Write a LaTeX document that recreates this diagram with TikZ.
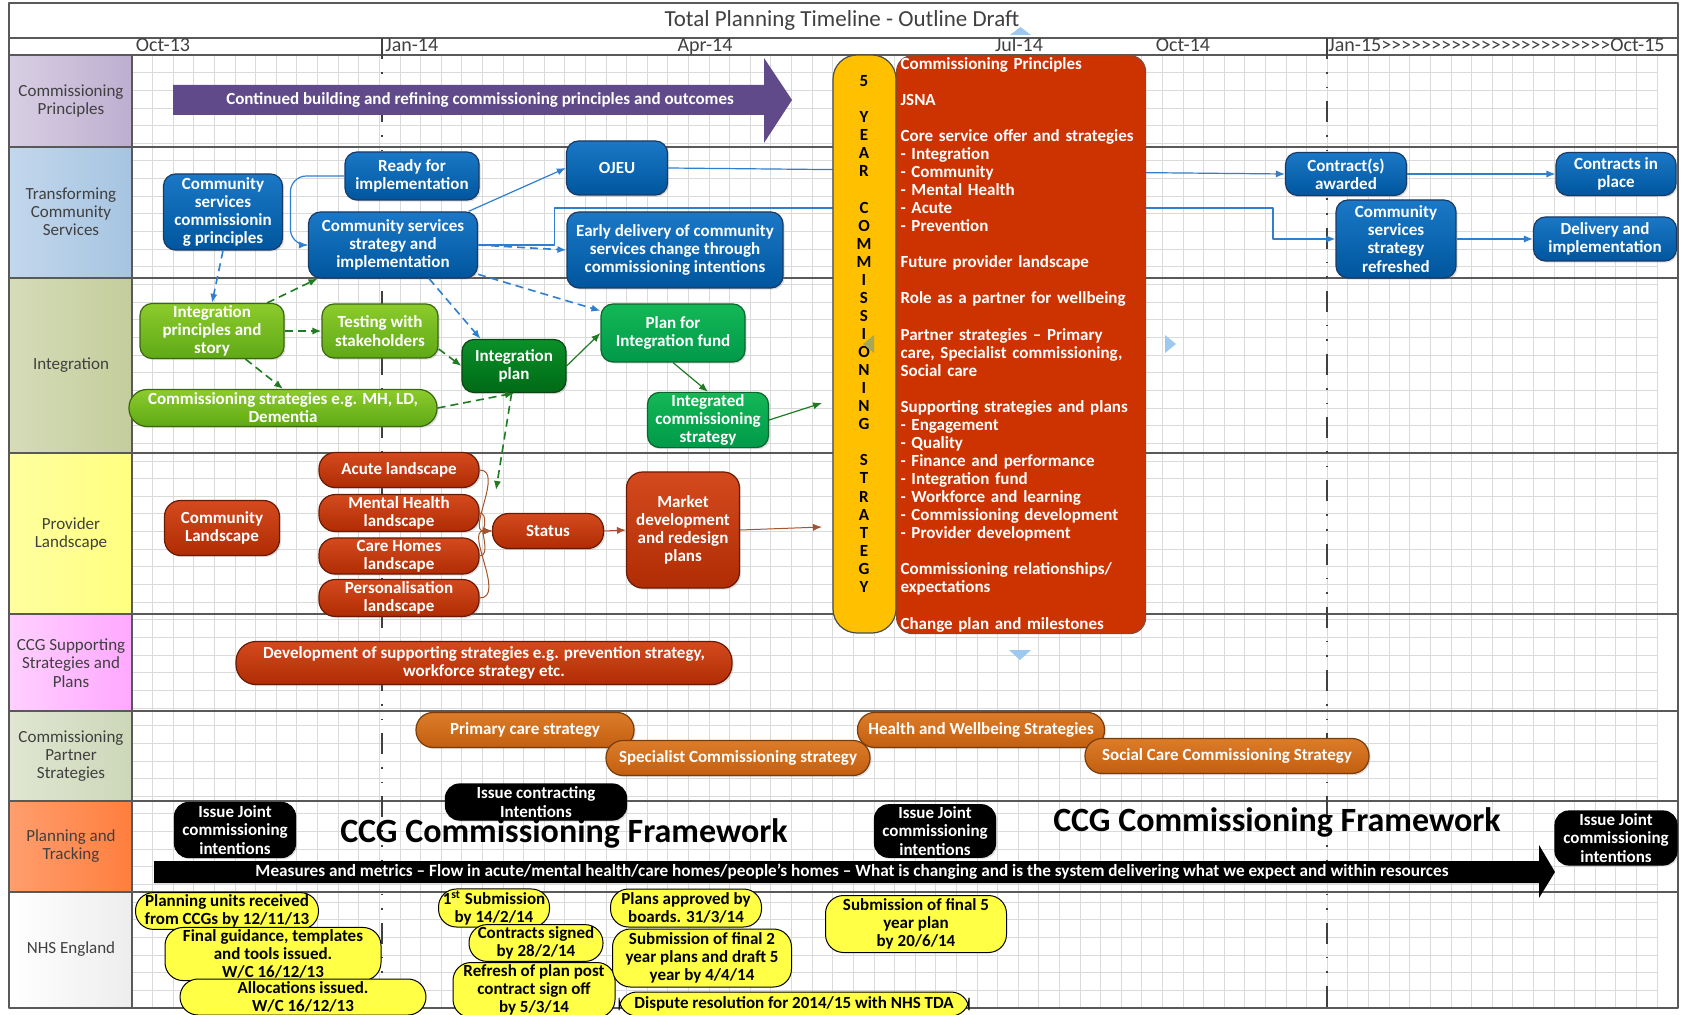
\documentclass[tikz,border=0pt]{standalone}
\usepackage{fontspec}
\setmainfont{Carlito}
\usetikzlibrary{arrows.meta,shadows}

\definecolor{framegrey}{HTML}{595959}
\definecolor{gridgrey}{HTML}{DADADA}
\definecolor{labelgrey}{HTML}{404040}
\definecolor{cpA}{HTML}{D8CFE3}\definecolor{cpB}{HTML}{BDAED0}
\definecolor{tcsA}{HTML}{C3D7EC}\definecolor{tcsB}{HTML}{A6C4E1}
\definecolor{intA}{HTML}{D5DCB8}\definecolor{intB}{HTML}{C4CD9C}
\definecolor{provA}{HTML}{FFFFA0}\definecolor{provB}{HTML}{FFFF80}
\definecolor{ccgA}{HTML}{FFD0FF}\definecolor{ccgB}{HTML}{FFA8FF}
\definecolor{partA}{HTML}{E0E6D2}\definecolor{partB}{HTML}{CDD7B8}
\definecolor{planA}{HTML}{FF9E6E}\definecolor{planB}{HTML}{FF7E3E}
\definecolor{nhsA}{HTML}{FFFFFF}\definecolor{nhsB}{HTML}{EDEDED}
\definecolor{blueA}{HTML}{1B78C6}\definecolor{blueB}{HTML}{00569E}\definecolor{blueE}{HTML}{1A3A66}
\definecolor{limeA}{HTML}{8CCB2C}\definecolor{limeB}{HTML}{5FA916}\definecolor{limeE}{HTML}{3C6612}
\definecolor{dgreenA}{HTML}{0A9028}\definecolor{dgreenB}{HTML}{006A16}\definecolor{dgreenE}{HTML}{0A4512}
\definecolor{mgreenA}{HTML}{14B856}\definecolor{mgreenB}{HTML}{00994A}\definecolor{mgreenE}{HTML}{0C6430}
\definecolor{redA}{HTML}{D44A1E}\definecolor{redB}{HTML}{B02C04}\definecolor{redE}{HTML}{6A1A04}
\definecolor{orA}{HTML}{DC7C2A}\definecolor{orB}{HTML}{C25F10}\definecolor{orE}{HTML}{7A3C08}
\definecolor{purplearrow}{HTML}{604A8A}
\definecolor{stratred}{HTML}{CC3300}
\definecolor{stratyellow}{HTML}{FFC000}
\definecolor{nhsyellow}{HTML}{FFFF45}
\definecolor{linkblue}{HTML}{2F7FD0}
\definecolor{linkgreen}{HTML}{1E7B22}
\definecolor{linkbrown}{HTML}{A3542A}
\definecolor{handleblue}{HTML}{9DC8F0}
\definecolor{handleolive}{HTML}{A5A858}

\newcommand{\boxfont}{\fontsize{8.5}{9.1}\selectfont\bfseries}
\newcommand{\stratfont}{\fontsize{8.5}{9.03}\selectfont\bfseries}
\newcommand{\gtmark}{>\kern0pt}

\tikzset{
  sz/.style 2 args={minimum width=#1*0.5pt, minimum height=#2*0.5pt},
  lanehead/.style={font=\fontsize{8.5}{9.1}\selectfont, text=labelgrey, align=center},
  datelabel/.style={font=\fontsize{10}{12}\selectfont, text=labelgrey, anchor=base},
  gridline/.style={draw=gridgrey, line width=0.4pt},
  laneline/.style={draw=framegrey, line width=0.6pt},
  milestone/.style={draw=labelgrey, line width=0.8pt, dash pattern=on 10.5pt off 6.5pt on 0.8pt off 6.5pt on 0.8pt off 6.5pt},
  task/.style={rounded corners=6pt, line width=0.6pt, inner sep=1pt, align=center, font=\boxfont, text=white,
    drop shadow={shadow xshift=0.8pt, shadow yshift=-0.8pt, opacity=0.25}},
  tcsbox/.style={task, draw=blueE, top color=blueA, bottom color=blueB},
  limebox/.style={task, draw=limeE, top color=limeA, bottom color=limeB},
  dgreenbox/.style={task, draw=dgreenE, top color=dgreenA, bottom color=dgreenB},
  mgreenbox/.style={task, draw=mgreenE, top color=mgreenA, bottom color=mgreenB},
  provbox/.style={task, rounded corners=8pt, draw=redE, top color=redA, bottom color=redB},
  partbox/.style={task, rounded corners=8.5pt, draw=orE, top color=orA, bottom color=orB},
  jointbox/.style={task, rounded corners=7pt, fill=black, draw=black},
  nhsbox/.style={rounded corners=9pt, draw=black, line width=0.5pt, fill=nhsyellow, inner sep=1pt,
    align=center, font=\boxfont, text=black},
  tcslink/.style={draw=linkblue, line width=0.6pt, ->},
  tcsdash/.style={tcslink, line width=0.8pt, dash pattern=on 4pt off 2.5pt},
  intlink/.style={draw=linkgreen, line width=0.6pt, ->},
  intdash/.style={intlink, line width=0.8pt, dash pattern=on 4pt off 2.5pt},
  provlink/.style={draw=linkbrown, line width=0.5pt, ->},
}

\begin{document}
\begin{tikzpicture}[x=0.5pt, y=-0.5pt, line join=round, >={Latex[length=4.5pt,width=3.6pt]}]
\def\gxmin{132}\def\gxmax{1657}\def\gymin{55}\def\gymax{1008}
\useasboundingbox (0,0) rectangle (1685,1015);
\fill[white] (0,0) rectangle (1685,1015);

% lane headings
\path[left color=cpA, right color=cpB] (9,55) rectangle (132,147);
\path[left color=tcsA, right color=tcsB] (9,147) rectangle (132,278);
\path[left color=intA, right color=intB] (9,278) rectangle (132,453);
\path[left color=provA, right color=provB] (9,453) rectangle (132,614);
\path[left color=ccgA, right color=ccgB] (9,614) rectangle (132,711);
\path[left color=partA, right color=partB] (9,711) rectangle (132,801);
\path[left color=planA, right color=planB] (9,801) rectangle (132,892);
\path[left color=nhsA, right color=nhsB] (9,892) rectangle (132,1008);

% grid
\foreach \gx in {0,...,74}
  \draw[gridline] ({\gxmin+20.608*\gx},\gymin) -- ({\gxmin+20.608*\gx},\gymax);
\foreach \gy in {0,...,54}
  \draw[gridline] (\gxmin,{\gymin+17.648*\gy}) -- (\gxmax,{\gymin+17.648*\gy});

% frame and lanes
\foreach \ly in {38,55,147,278,453,614,711,801,892}
  \draw[laneline] (9,\ly) -- (1678,\ly);
\draw[laneline] (132,55) -- (132,1008);
\draw[draw=framegrey, line width=0.7pt] (9,3) rectangle (1678,1008);

\node[lanehead] (hcp) at (71,101) {Commissioning\\Principles};
\node[lanehead] (htcs) at (71,212) {Transforming\\Community\\Services};
\node[lanehead] (hint) at (71,365) {Integration};
\node[lanehead] (hprov) at (71,534) {Provider\\Landscape};
\node[lanehead] (hccg) at (71,663) {CCG Supporting\\Strategies and\\Plans};
\node[lanehead] (hpart) at (71,756) {Commissioning\\Partner\\Strategies};
\node[lanehead] (hplan) at (71,846) {Planning and\\Tracking};
\node[lanehead] (hnhs) at (71,949) {NHS England};

% title and dates
\node[font=\fontsize{11.5}{13}\selectfont, text=labelgrey] (title) at (842,20) {Total Planning Timeline - Outline Draft};
\node[datelabel] (oct13) at (163,52) {Oct-13};
\node[datelabel, anchor=base west, inner xsep=0pt] (jan14) at (385,52) {Jan-14};
\node[datelabel] (apr14) at (705,52) {Apr-14};
\node[datelabel] (jul14) at (1019,52) {Jul-14};
\node[datelabel] (oct14) at (1183,52) {Oct-14};
\node[datelabel, anchor=base west, inner xsep=0pt] (jan15) at (1328,52)
  {Jan-15\foreach \k in {1,...,23}{\gtmark}Oct-15};

\draw[milestone] (382,38) -- (382,1008);
\draw[milestone] (1327,38) -- (1327,1008);

% commissioning principles
\fill[purplearrow] (173,85) -- (764,85) -- (764,58) -- (792,100) -- (764,143) -- (764,115) -- (173,115) -- cycle;
\node[font=\boxfont, text=white] (cpnote) at (480,100) {Continued building and refining commissioning principles and outcomes};

% transforming community services
\node[tcsbox, sz={119}{76}] (cscp) at (223,212) {Community\\services\\commissionin\\g principles};
\node[tcsbox, sz={134}{48}] (ready) at (412,176) {Ready for\\implementation};
\node[tcsbox, sz={101}{54}] (ojeu) at (617,168) {OJEU};
\node[tcsbox, sz={169}{66}] (cssi) at (393,245) {Community services\\strategy and\\implementation};
\node[tcsbox, sz={216}{76}] (early) at (675,250) {Early delivery of community\\services change through\\commissioning intentions};
\node[tcsbox, sz={121}{43}] (awarded) at (1346,174) {Contract(s)\\awarded};
\node[tcsbox, sz={120}{43}] (inplace) at (1616,174) {Contracts in\\place};
\node[tcsbox, sz={120}{78}] (refreshed) at (1396,239) {Community\\services\\strategy\\refreshed};
\node[tcsbox, sz={143}{44}] (delivery) at (1605,239) {Delivery and\\implementation};

% integration
\node[limebox, sz={144}{54}] (intprin) at (212,331) {Integration\\principles and\\story};
\node[limebox, sz={116}{54}] (testing) at (380,331) {Testing with\\stakeholders};
\node[dgreenbox, sz={104}{53}] (intplan) at (514,366) {Integration\\plan};
\node[mgreenbox, sz={144}{58}] (fundplan) at (673,333) {Plan for\\Integration fund};
\node[limebox, rounded corners=9pt, sz={308}{37}] (commstrat) at (283,408) {Commissioning strategies e.g. MH, LD,\\Dementia};
\node[mgreenbox, sz={121}{54}] (ics) at (708,420) {Integrated\\commissioning\\strategy};

% provider landscape
\node[provbox, sz={160}{35}] (acute) at (399,470) {Acute landscape};
\node[provbox, sz={160}{36}] (mh) at (399,513) {Mental Health\\landscape};
\node[provbox, sz={160}{36}] (carehomes) at (399,556) {Care Homes\\landscape};
\node[provbox, sz={160}{35}] (pers) at (399,598) {Personalisation\\landscape};
\node[provbox, sz={115}{55}] (commland) at (222,528) {Community\\Landscape};
\node[provbox, sz={111}{35}] (status) at (548,531) {Status};
\node[provbox, sz={113}{116}] (market) at (683,530) {Market\\development\\and redesign\\plans};

% ccg supporting strategies
\node[provbox, rounded corners=10pt, sz={496}{43}] (devstrat) at (484,663) {Development of supporting strategies e.g. prevention strategy,\\workforce strategy etc.};

% partner strategies
\node[partbox, sz={218}{35}] (primary) at (525,730) {Primary care strategy};
\node[partbox, sz={264}{35}] (specialist) at (738,758) {Specialist Commissioning strategy};
\node[partbox, sz={247}{35}] (hwb) at (981,730) {Health and Wellbeing Strategies};
\node[partbox, sz={284}{35}] (social) at (1227,756) {Social Care Commissioning Strategy};

% planning and tracking
\fill[black] (154,861) -- (1539,861) -- (1539,845) -- (1555,872) -- (1539,898) -- (1539,883) -- (154,883) -- cycle;
\node[font=\fontsize{8.6}{9.1}\selectfont\bfseries, text=white] (measures) at (852,872) {Measures and metrics – Flow in acute/mental health/care homes/people’s homes – What is changing and is the system delivering what we expect and within resources};
\node[jointbox, sz={121}{55}] (jointA) at (235,830) {Issue Joint\\commissioning\\intentions};
\node[jointbox, sz={181}{36}] (contracting) at (536,802) {Issue contracting\\Intentions};
\node[font=\fontsize{17}{20}\selectfont\bfseries] (frameworkA) at (564,833) {CCG Commissioning Framework};
\node[jointbox, sz={121}{52}] (jointB) at (935,831) {Issue Joint\\commissioning\\intentions};
\node[font=\fontsize{17}{20}\selectfont\bfseries] (frameworkB) at (1277,822) {CCG Commissioning Framework};
\node[jointbox, sz={122}{54}] (jointC) at (1616,838) {Issue Joint\\commissioning\\intentions};

% nhs england
\node[nhsbox, sz={183}{35}] (plunits) at (227,911) {Planning units received\\from CCGs by 12/11/13};
\node[nhsbox, sz={216}{48}] (guidance) at (273,954) {Final guidance, templates\\and tools issued.\\W/C 16/12/13};
\node[nhsbox, sz={246}{36}] (alloc) at (303,997) {Allocations issued.\\W/C 16/12/13};
\node[nhsbox, sz={111}{38}] (firstsub) at (494,908) {1\textsuperscript{st} Submission\\by 14/2/14};
\node[nhsbox, sz={134}{34}] (signed) at (536,943) {Contracts signed\\by 28/2/14};
\node[nhsbox, sz={162}{55}] (refresh) at (534,990) {Refresh of plan post\\contract sign off\\by 5/3/14};
\node[nhsbox, sz={151}{38}] (approved) at (686,908) {Plans approved by\\boards. 31/3/14};
\node[nhsbox, sz={179}{58}] (finaltwo) at (702,958) {Submission of final 2\\year plans and draft 5\\year by 4/4/14};
\node[nhsbox, sz={350}{24}] (dispute) at (794,1004) {Dispute resolution for 2014/15 with NHS TDA};
\node[nhsbox, sz={181}{57}] (finalfive) at (916,924) {Submission of final 5\\year plan\\by 20/6/14};

% connectors
\coordinate (kinkA) at (1273,208);
\coordinate (icsend) at (822,403);
\coordinate (mktend) at (822,527);
\coordinate (intdrop) at (496,490);
\draw[tcslink, rounded corners=8pt] (ready.west) -- ++(-54,0) |- (cssi.west);
\draw[tcslink] (cssi.24) -- (ojeu.west);
\draw[tcslink] (ojeu.east) -- (awarded.west);
\draw[tcslink] (awarded.east) -- (inplace.west);
\draw[tcslink] (cssi.east) -- ++(76,0) |- (kinkA) |- (refreshed.west);
\draw[tcslink] (refreshed.east) -- (delivery.west);
\draw[tcsdash] (cssi.east) -- (early.west);
\draw[tcsdash] (cssi.-43) -- (intplan.141);
\draw[tcsdash] (cssi.-19) -- (fundplan.163);
\draw[tcsdash] (cscp.south) -- (intprin.north);

\draw[intdash] (intprin.27) -- (cssi.204);
\draw[intdash] (intprin.east) -- (testing.west);
\draw[intdash] (intprin.-40) -- (commstrat.north);
\draw[intdash] (testing.-17) -- (intplan.west);
\draw[intdash] (commstrat.east) -- (intplan.south);
\draw[intdash] (intplan.-95) -- (intdrop);
\draw[intlink] (intplan.east) -- (fundplan.west);
\draw[intlink] (fundplan.south) -- (ics.north);
\draw[intlink] (ics.east) -- (icsend);

\draw[provlink] (acute.east) to[out=0, in=180] (status.west);
\draw[provlink] (mh.east) to[out=0, in=180] (status.west);
\draw[provlink] (carehomes.east) to[out=0, in=180] (status.west);
\draw[provlink] (pers.east) to[out=0, in=180] (status.west);
\draw[provlink] (status.east) -- (market.west);
\draw[provlink] (market.east) -- (mktend);

% five year strategy
\node[draw=black!70, line width=0.6pt, fill=stratyellow, rounded corners=12pt, sz={63}{578}] (yrbar) at (864.5,344) {};
\node[font=\stratfont, align=center, text=black] (yrtext) at (864,334)
  {5\\\mbox{}\\Y\\E\\A\\R\\\mbox{}\\C\\O\\M\\M\\I\\S\\S\\I\\O\\N\\I\\N\\G\\\mbox{}\\S\\T\\R\\A\\T\\E\\G\\Y};
\node[draw=redE!80, line width=0.6pt, fill=stratred, rounded corners=8pt, sz={249}{578}, anchor=north west,
  inner xsep=2pt, inner ysep=0pt, text width=120.5pt, align=left, font=\stratfont, text=white] (strat) at (896,55)
  {Commissioning Principles\\\mbox{}\\JSNA\\\mbox{}\\Core service offer and strategies\\- Integration\\- Community\\- Mental Health\\- Acute\\- Prevention\\\mbox{}\\Future provider landscape\\\mbox{}\\Role as a partner for wellbeing\\\mbox{}\\Partner strategies – Primary\\care, Specialist commissioning,\\Social care\\\mbox{}\\Supporting strategies and plans\\- Engagement\\- Quality\\- Finance and performance\\- Integration fund\\- Workforce and learning\\- Commissioning development\\- Provider development\\\mbox{}\\Commissioning relationships/\\expectations\\\mbox{}\\Change plan and milestones};

% selection handles
\fill[handleblue] (1010,35) -- (1031,35) -- (1020.5,27) -- cycle;
\fill[handleblue] (1009,650) -- (1031,650) -- (1020,660) -- cycle;
\fill[handleblue] (1165,335) -- (1165,353) -- (1176,344) -- cycle;
\fill[handleolive] (874,335) -- (874,353) -- (863,344) -- cycle;
\end{tikzpicture}
\end{document}
